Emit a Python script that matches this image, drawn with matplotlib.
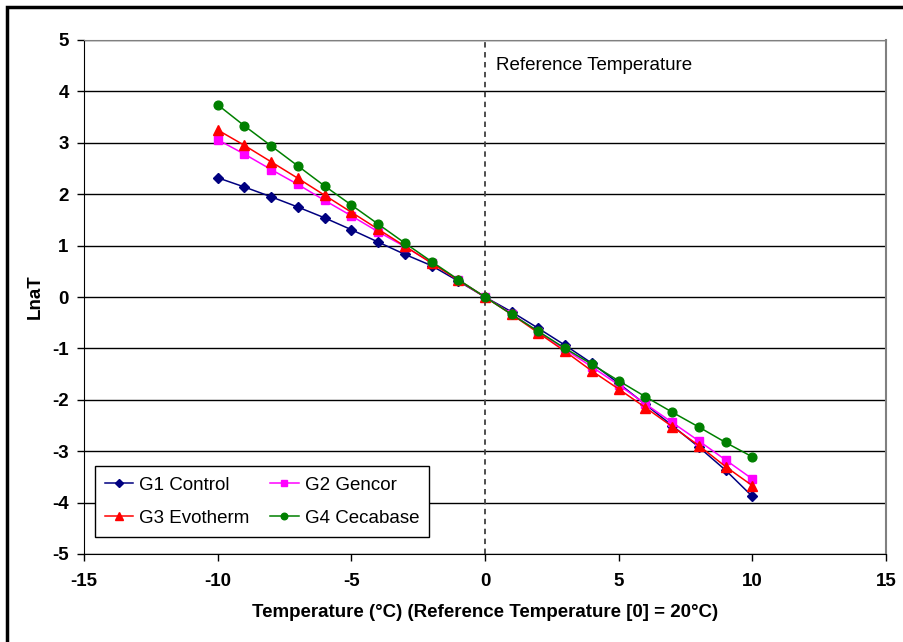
import matplotlib.pyplot as plt
from matplotlib.patches import Rectangle

plt.rcParams['font.family'] = ['Liberation Sans', 'DejaVu Sans']
plt.rcParams['axes.unicode_minus'] = False

# datos
temp = [-10, -9, -8, -7, -6, -5, -4, -3, -2, -1, 0, 1, 2, 3, 4, 5, 6, 7, 8, 9, 10]
g1_control = [2.32, 2.14, 1.95, 1.75, 1.54, 1.31, 1.07, 0.83, 0.61, 0.31, 0.0,
              -0.29, -0.61, -0.94, -1.29, -1.68, -2.09, -2.50, -2.92, -3.37, -3.88]
g2_gencor = [3.06, 2.78, 2.48, 2.19, 1.88, 1.58, 1.27, 0.98, 0.67, 0.33, 0.0,
             -0.33, -0.68, -1.02, -1.36, -1.71, -2.08, -2.44, -2.80, -3.17, -3.54]
g3_evotherm = [3.25, 2.95, 2.63, 2.31, 1.98, 1.65, 1.32, 0.99, 0.66, 0.33, 0.0,
               -0.34, -0.70, -1.06, -1.44, -1.79, -2.15, -2.52, -2.89, -3.30, -3.67]
g4_cecabase = [3.74, 3.33, 2.94, 2.55, 2.16, 1.79, 1.42, 1.05, 0.69, 0.34, 0.0,
               -0.34, -0.67, -1.00, -1.31, -1.63, -1.94, -2.24, -2.53, -2.83, -3.11]

fs = 13.5

fig = plt.figure(figsize=(9.04, 6.42), dpi=100)
ax = fig.add_axes([84/904, 1 - 554/642, (886 - 84)/904, (554 - 40)/642])

l1, = ax.plot(temp, g1_control, '-D', color='#000080', lw=1.1, ms=5, label='G1 Control')
l2, = ax.plot(temp, g2_gencor, '-s', color='#FF00FF', lw=1.1, ms=6, label='G2 Gencor')
l3, = ax.plot(temp, g3_evotherm, '-^', color='#FF0000', lw=1.1, ms=7, label='G3 Evotherm')
l4, = ax.plot(temp, g4_cecabase, '-o', color='#008000', lw=1.1, ms=6.3, label='G4 Cecabase')

# linea de referencia
ax.axvline(0, color='#404040', ls=(0, (3, 2.5)), lw=1.3, zorder=1)
ax.text(0.4, 4.5, 'Reference Temperature', fontsize=fs, va='center', ha='left')

ax.set_xlim(-15, 15)
ax.set_ylim(-5, 5)
ax.set_xticks(range(-15, 16, 5))
ax.set_yticks(range(-5, 6))
ax.yaxis.grid(True, color='black', lw=1.0, zorder=0)
ax.set_axisbelow(True)
for lab in ax.get_xticklabels() + ax.get_yticklabels():
    lab.set_fontweight('bold')
ax.tick_params(axis='both', labelsize=fs, direction='out', length=5, width=1)
ax.tick_params(axis='x', pad=9)
ax.tick_params(axis='y', pad=6)
ax.spines['top'].set_color('#808080')
ax.spines['right'].set_color('#808080')
ax.spines['right'].set_linewidth(1.5)

ax.set_xlabel('Temperature (°C) (Reference Temperature [0] = 20°C)',
              fontsize=fs, fontweight='bold', labelpad=10)
ax.set_ylabel('LnaT', fontsize=fs, fontweight='bold', labelpad=6)

# orden por filas como en Excel
leg = ax.legend([l1, l3, l2, l4], [l1.get_label(), l3.get_label(), l2.get_label(), l4.get_label()],
                loc='lower left', ncol=2, fontsize=fs, frameon=True, fancybox=False,
                edgecolor='black', framealpha=1, bbox_to_anchor=(0.0137, 0.033),
                borderaxespad=0, handlelength=1.5, handletextpad=0.32, columnspacing=1.1,
                borderpad=0.55, labelspacing=0.85, markerscale=0.75)
leg.get_frame().set_linewidth(1.0)

# borde de la figura
fig.patches.append(Rectangle((7/904, -0.1), 1.2, 1 - 7/642 + 0.1, transform=fig.transFigure,
                             fill=False, edgecolor='black', lw=2.5))

fig.savefig('out.png', dpi=100)
